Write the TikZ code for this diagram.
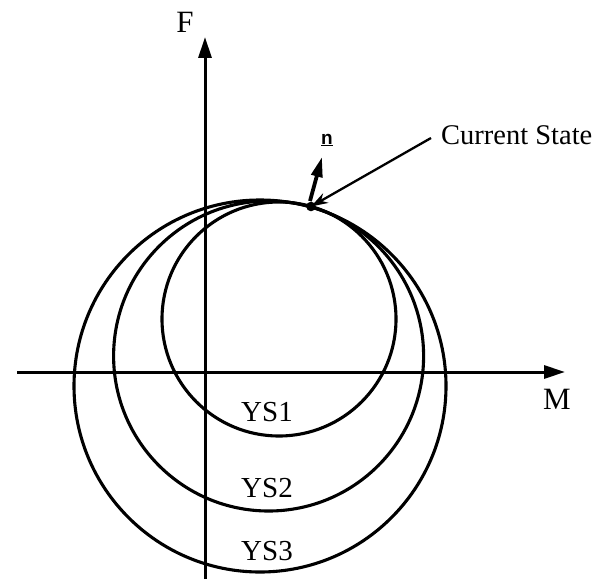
\documentclass[tikz,border=0pt]{standalone}
\usepackage{fontspec}
\setmainfont{Liberation Serif}
\newfontfamily\nfont{Liberation Sans}
\usetikzlibrary{arrows.meta}
\begin{document}
\begin{tikzpicture}[x=1pt,y=-1pt,
  axis/.style={line width=3pt,-{Triangle[length=21pt,width=13pt]}},
  ysline/.style={line width=3.1pt},
  axlabel/.style={font=\fontsize{31}{33}\selectfont},
  yslabel/.style={font=\fontsize{29}{31}\selectfont},
  cslabel/.style={font=\fontsize{28.5}{30}\selectfont, anchor=west, inner sep=0pt},
  pointer/.style={line width=2.3pt,-{Stealth[length=17pt,width=11pt]}},
  normalarrow/.style={line width=3.8pt,-{Triangle[length=20pt,width=11pt]}}]
\useasboundingbox (0,0) rectangle (612,580);
% axes
\coordinate (xl) at (17,372);
\coordinate (xr) at (565,372);
\coordinate (yb) at (205,579);
\coordinate (yt) at (205,37);
\draw[axis] (xl) -- (xr);
\draw[axis] (yb) -- (yt);
% yield surfaces
\draw[ysline] (279,319) circle (117);
\draw[ysline] (268.6,356) circle (155);
\draw[ysline] (260,386) circle (186);
% current state
\coordinate (P) at (311,206.5);
\fill (P) circle (4.8);
\node[cslabel] (cs) at (441,135) {Current State};
\draw[pointer] (cs.west) ++(-10,3) coordinate (csa) (csa) -- (P);
% normal
\coordinate (nb) at (310,201);
\coordinate (nt) at (322,157);
\draw[normalarrow] (nb) -- (nt);
\node[font=\nfont\bfseries\fontsize{19}{20}\selectfont, inner sep=0pt] (n) at (327,140) {\underline{n}};
% labels
\node[axlabel] (F) at (185,22) {F};
\node[axlabel] (M) at (557,399) {M};
\node[yslabel] (ys1) at (267,412) {YS1};
\node[yslabel] (ys2) at (267,488) {YS2};
\node[yslabel] (ys3) at (267,551) {YS3};
\end{tikzpicture}
\end{document}
